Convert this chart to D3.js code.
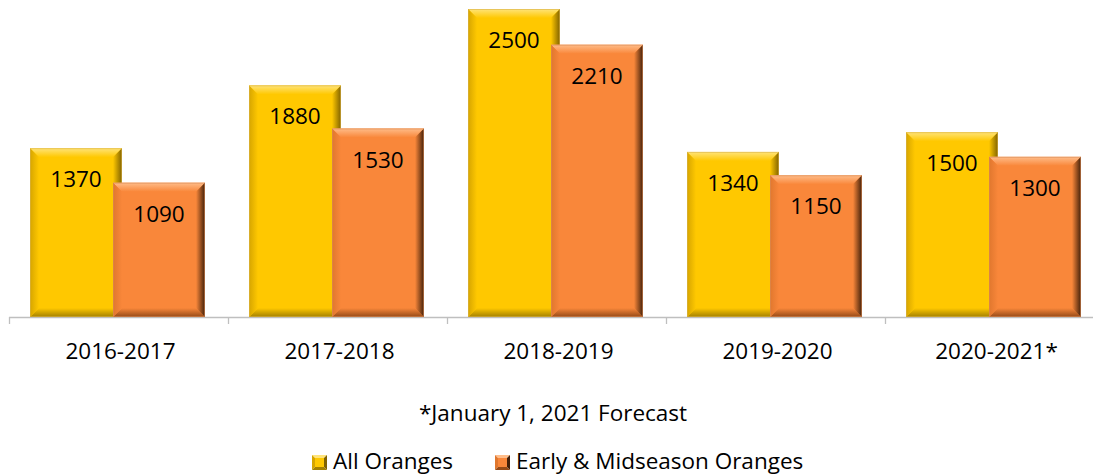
<!DOCTYPE html>
<html>
<head>
<meta charset="utf-8">
<script src="https://cdn.jsdelivr.net/npm/d3@7"></script>
<style>
	body { margin: 0; background: #fff; }
	text { font-family: 'Open Sans', sans-serif; fill: #000; }
</style>
</head>
<body>
<div id="chart-holder"></div>
<script>
// Chart data
let seasons = ['2016-2017', '2017-2018', '2018-2019', '2019-2020', '2020-2021*'];
let seriesNames = ['All Oranges', 'Early & Midseason Oranges'];
let allOranges = [1370, 1880, 2500, 1340, 1500];
let earlyMid = [1090, 1530, 2210, 1150, 1300];
let footnote = '*January 1, 2021 Forecast';

let width = 1093;
let height = 475;
let baseY = 317;

let svg = d3.select('#chart-holder')
	.append('svg')
	.attr('width', width)
	.attr('height', height)

// colours per series: base, light, dark, side
let palette = [
	{base: '#ffc800', light: '#ffe47a', dark: '#806200', left: '#d6a500', bottom: '#a38000'},
	{base: '#f9873a', light: '#ffbd8a', dark: '#42200a', left: '#e0772e', bottom: '#954a17'}
];

let defs = svg.append('defs');
function addGrad(id, x2, y2, c1, c2){
	let g = defs.append('linearGradient')
		.attr('id', id)
		.attr('x1', 0).attr('y1', 0)
		.attr('x2', x2).attr('y2', y2);
	g.append('stop').attr('offset', '0%').attr('stop-color', c1);
	g.append('stop').attr('offset', '100%').attr('stop-color', c2);
}
palette.forEach(function(p, i){
	addGrad('top' + i, 0, 1, p.light, p.base);
	addGrad('bot' + i, 0, 1, p.base, p.bottom);
	addGrad('lft' + i, 1, 0, p.left, p.base);
	addGrad('rgt' + i, 1, 0, p.base, p.dark);
});

// scales
let x = d3.scaleBand()
	.domain(seasons)
	.range([9, 1104])
	.paddingInner(0)
	.paddingOuter(0);

let xSeries = d3.scalePoint()
	.domain(seriesNames)
	.range([21, 104]);

let barW = 92;

let y = d3.scaleLinear()
	.domain([0, 2500])
	.range([baseY, 9]);

let rows = [];
seasons.forEach(function(s, i){
	rows.push({season: s, series: seriesNames[0], idx: 0, value: allOranges[i]});
	rows.push({season: s, series: seriesNames[1], idx: 1, value: earlyMid[i]});
});

// bevelled bar
function drawBevel(g, x0, y0, w, h, idx, b){
	let x1 = x0 + w, y1 = y0 + h;
	g.append('rect')
		.attr('x', x0).attr('y', y0)
		.attr('width', w).attr('height', h)
		.attr('fill', palette[idx].base);
	g.append('polygon')
		.attr('points', [[x0, y0], [x1, y0], [x1 - b, y0 + b], [x0 + b, y0 + b]].join(' '))
		.attr('fill', 'url(#top' + idx + ')');
	g.append('polygon')
		.attr('points', [[x0, y1], [x1, y1], [x1 - b, y1 - b], [x0 + b, y1 - b]].join(' '))
		.attr('fill', 'url(#bot' + idx + ')');
	g.append('polygon')
		.attr('points', [[x0, y0], [x0 + b, y0 + b], [x0 + b, y1 - b], [x0, y1]].join(' '))
		.attr('fill', 'url(#lft' + idx + ')');
	g.append('polygon')
		.attr('points', [[x1, y0], [x1 - b, y0 + b], [x1 - b, y1 - b], [x1, y1]].join(' '))
		.attr('fill', 'url(#rgt' + idx + ')');
	g.append('rect')
		.attr('x', x0 + 0.5).attr('y', y0 + 0.5)
		.attr('width', w - 1).attr('height', h - 1)
		.attr('fill', 'none')
		.attr('stroke', idx === 0 ? '#d9b24a' : '#d98a55')
		.attr('stroke-width', 1)
		.attr('stroke-opacity', 0.6);
}

// axis line and ticks
let axis = svg.append('g').attr('id', 'axis');
axis.append('line')
	.attr('x1', 9).attr('x2', width)
	.attr('y1', baseY + 0.5).attr('y2', baseY + 0.5)
	.attr('stroke', '#bfbfbf')
	.attr('stroke-width', 1.3);
axis.selectAll('.tick')
	.data(seasons)
	.enter()
	.append('line')
	.attr('x1', function(d){ return Math.round(x(d)) + 0.5; })
	.attr('x2', function(d){ return Math.round(x(d)) + 0.5; })
	.attr('y1', baseY)
	.attr('y2', baseY + 7)
	.attr('stroke', '#bfbfbf')
	.attr('stroke-width', 1.3);

// bars
let bars = svg.append('g').attr('id', 'bars');
rows.forEach(function(d){
	let bx = x(d.season) + xSeries(d.series);
	let by = y(d.value);
	let g = bars.append('g');
	drawBevel(g, bx, by, barW, baseY - by, d.idx, 9);
	g.append('text')
		.text(d.value)
		.attr('x', bx + barW / 2)
		.attr('y', by + 39)
		.attr('text-anchor', 'middle')
		.attr('font-size', 22.5);
});

// category labels
svg.append('g')
	.selectAll('text')
	.data(seasons)
	.enter()
	.append('text')
	.text(function(d){ return d; })
	.attr('x', function(d){ return x(d) + x.bandwidth() / 2 + 2; })
	.attr('y', 359)
	.attr('text-anchor', 'middle')
	.attr('font-size', 22.5);

// footnote
svg.append('text')
	.text(footnote)
	.attr('x', 553)
	.attr('y', 421)
	.attr('text-anchor', 'middle')
	.attr('font-size', 22.5);

// legend with pyramid markers
let legendX = [312, 495];
let legend = svg.append('g').attr('id', 'legend');
seriesNames.forEach(function(name, i){
	let lx = legendX[i], ly = 455, s = 15;
	let p = palette[i];
	let cx = lx + s / 2, cy = ly + s / 2;
	legend.append('polygon').attr('points', [[lx, ly], [lx + s, ly], [cx, cy]].join(' ')).attr('fill', p.light);
	legend.append('polygon').attr('points', [[lx, ly], [lx, ly + s], [cx, cy]].join(' ')).attr('fill', p.left);
	legend.append('polygon').attr('points', [[lx + s, ly], [lx + s, ly + s], [cx, cy]].join(' ')).attr('fill', p.dark);
	legend.append('polygon').attr('points', [[lx, ly + s], [lx + s, ly + s], [cx, cy]].join(' ')).attr('fill', p.bottom);
	legend.append('rect').attr('x', lx + 3).attr('y', ly + 3).attr('width', s - 6).attr('height', s - 6).attr('fill', p.base);
	legend.append('text')
		.text(name)
		.attr('x', lx + s + 6)
		.attr('y', 469)
		.attr('font-size', 22.5);
});
</script>
</body>
</html>
